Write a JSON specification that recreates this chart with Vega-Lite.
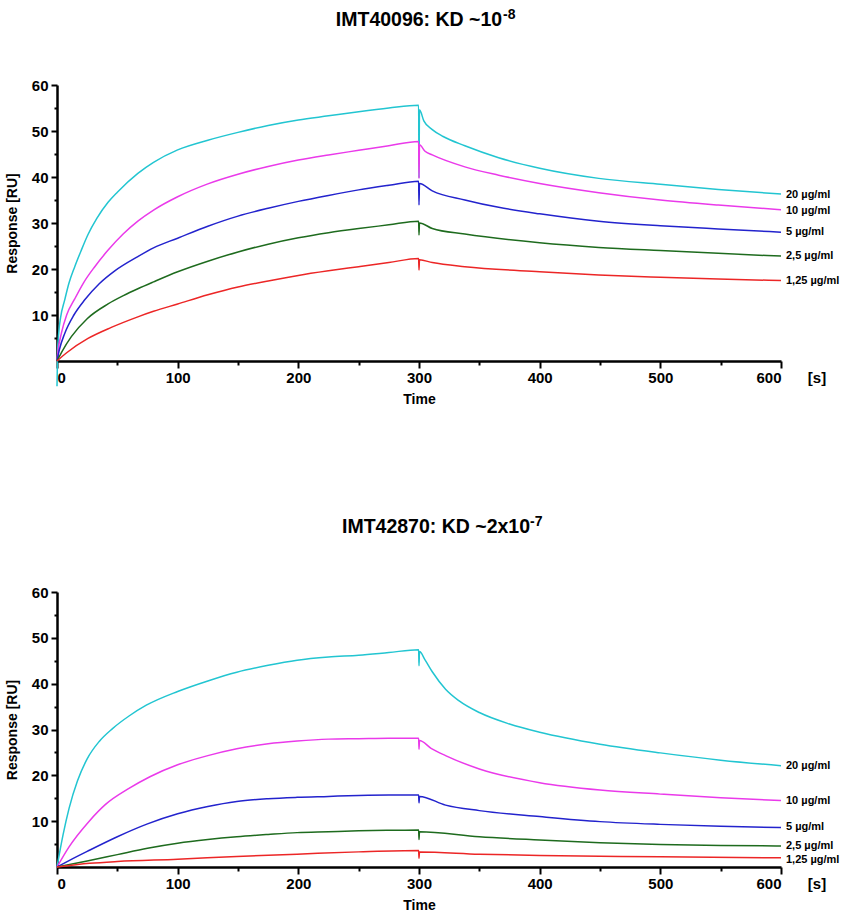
{
  "$schema": "https://vega.github.io/schema/vega-lite/v6.json",
  "padding": {"left": 5, "top": 8, "right": 5, "bottom": 2},
  "config": {
    "font": "Liberation Sans",
    "view": {"stroke": null},
    "concat": {"spacing": 109},
    "axis": {
      "grid": false,
      "domainColor": "#000000",
      "domainWidth": 2.5,
      "tickColor": "#000000",
      "tickWidth": 2,
      "labelFont": "Liberation Sans",
      "labelFontSize": 15,
      "labelFontWeight": "bold",
      "labelColor": "#000000",
      "labelOverlap": false,
      "titleFont": "Liberation Sans",
      "titleFontSize": 14,
      "titleFontWeight": "bold",
      "titleColor": "#000000"
    }
  },
  "datasets": {
    "top": [
      {"c": "20", "t": 0, "v": -5.5}, {"c": "20", "t": 0.5, "v": 2}, {"c": "20", "t": 1.4, "v": 6}, {"c": "20", "t": 3, "v": 9.5},
      {"c": "20", "t": 6.4, "v": 13.3}, {"c": "20", "t": 10, "v": 17}, {"c": "20", "t": 14.7, "v": 20.5}, {"c": "20", "t": 20, "v": 24},
      {"c": "20", "t": 25.7, "v": 27.5}, {"c": "20", "t": 33, "v": 31}, {"c": "20", "t": 42.3, "v": 34.5}, {"c": "20", "t": 50, "v": 36.7},
      {"c": "20", "t": 67, "v": 40.8}, {"c": "20", "t": 80, "v": 43.2}, {"c": "20", "t": 100, "v": 45.9}, {"c": "20", "t": 125, "v": 48},
      {"c": "20", "t": 150, "v": 49.7}, {"c": "20", "t": 175, "v": 51.2}, {"c": "20", "t": 200, "v": 52.4}, {"c": "20", "t": 225, "v": 53.3},
      {"c": "20", "t": 250, "v": 54.2}, {"c": "20", "t": 275, "v": 55}, {"c": "20", "t": 299.7, "v": 55.6}, {"c": "20", "t": 300, "v": 39.8},
      {"c": "20", "t": 300.4, "v": 54.6}, {"c": "20", "t": 304, "v": 52.2}, {"c": "20", "t": 311, "v": 50.3}, {"c": "20", "t": 320, "v": 48.8},
      {"c": "20", "t": 338, "v": 46.8}, {"c": "20", "t": 366, "v": 44.2}, {"c": "20", "t": 400, "v": 41.9}, {"c": "20", "t": 449, "v": 39.7},
      {"c": "20", "t": 500, "v": 38.4}, {"c": "20", "t": 548, "v": 37.3}, {"c": "20", "t": 600, "v": 36.3},

      {"c": "10", "t": 0, "v": 0}, {"c": "10", "t": 1, "v": 2.5}, {"c": "10", "t": 3.6, "v": 6}, {"c": "10", "t": 8, "v": 10},
      {"c": "10", "t": 14.7, "v": 13.5}, {"c": "10", "t": 22, "v": 17}, {"c": "10", "t": 31.3, "v": 20.5}, {"c": "10", "t": 42, "v": 24},
      {"c": "10", "t": 54.8, "v": 27.6}, {"c": "10", "t": 67, "v": 30.4}, {"c": "10", "t": 80, "v": 32.8}, {"c": "10", "t": 100, "v": 35.7},
      {"c": "10", "t": 125, "v": 38.5}, {"c": "10", "t": 150, "v": 40.6}, {"c": "10", "t": 175, "v": 42.3}, {"c": "10", "t": 200, "v": 43.7},
      {"c": "10", "t": 225, "v": 44.8}, {"c": "10", "t": 250, "v": 45.8}, {"c": "10", "t": 275, "v": 46.8}, {"c": "10", "t": 299.7, "v": 47.7},
      {"c": "10", "t": 300, "v": 39.7}, {"c": "10", "t": 300.4, "v": 47}, {"c": "10", "t": 305, "v": 45.6}, {"c": "10", "t": 311, "v": 44.8},
      {"c": "10", "t": 338, "v": 42.2}, {"c": "10", "t": 366, "v": 40.4}, {"c": "10", "t": 400, "v": 38.6}, {"c": "10", "t": 449, "v": 36.6},
      {"c": "10", "t": 500, "v": 35}, {"c": "10", "t": 548, "v": 33.9}, {"c": "10", "t": 600, "v": 32.9},

      {"c": "5", "t": 0, "v": 0}, {"c": "5", "t": 2, "v": 2.5}, {"c": "5", "t": 6.4, "v": 6}, {"c": "5", "t": 14, "v": 10},
      {"c": "5", "t": 23, "v": 13.3}, {"c": "5", "t": 35, "v": 16.8}, {"c": "5", "t": 47.9, "v": 19.6}, {"c": "5", "t": 67, "v": 22.7},
      {"c": "5", "t": 80, "v": 24.6}, {"c": "5", "t": 100, "v": 26.7}, {"c": "5", "t": 125, "v": 29.3}, {"c": "5", "t": 150, "v": 31.5},
      {"c": "5", "t": 175, "v": 33.2}, {"c": "5", "t": 200, "v": 34.7}, {"c": "5", "t": 225, "v": 36}, {"c": "5", "t": 250, "v": 37.2},
      {"c": "5", "t": 275, "v": 38.2}, {"c": "5", "t": 299.7, "v": 39.1}, {"c": "5", "t": 300, "v": 33.9}, {"c": "5", "t": 300.4, "v": 38.6},
      {"c": "5", "t": 311, "v": 37}, {"c": "5", "t": 338, "v": 35}, {"c": "5", "t": 366, "v": 33.4}, {"c": "5", "t": 400, "v": 32},
      {"c": "5", "t": 449, "v": 30.4}, {"c": "5", "t": 500, "v": 29.4}, {"c": "5", "t": 548, "v": 28.7}, {"c": "5", "t": 600, "v": 28},

      {"c": "2.5", "t": 0, "v": 0}, {"c": "2.5", "t": 4, "v": 2}, {"c": "2.5", "t": 11.9, "v": 5.3}, {"c": "2.5", "t": 25, "v": 9.2},
      {"c": "2.5", "t": 42.3, "v": 12.4}, {"c": "2.5", "t": 55, "v": 14.2}, {"c": "2.5", "t": 67, "v": 15.7}, {"c": "2.5", "t": 80, "v": 17.2},
      {"c": "2.5", "t": 100, "v": 19.4}, {"c": "2.5", "t": 125, "v": 21.7}, {"c": "2.5", "t": 150, "v": 23.7}, {"c": "2.5", "t": 175, "v": 25.4},
      {"c": "2.5", "t": 200, "v": 26.8}, {"c": "2.5", "t": 225, "v": 27.9}, {"c": "2.5", "t": 250, "v": 28.8}, {"c": "2.5", "t": 275, "v": 29.6},
      {"c": "2.5", "t": 299.7, "v": 30.4}, {"c": "2.5", "t": 300, "v": 27.4}, {"c": "2.5", "t": 300.4, "v": 30}, {"c": "2.5", "t": 311, "v": 28.8},
      {"c": "2.5", "t": 338, "v": 27.6}, {"c": "2.5", "t": 400, "v": 25.7}, {"c": "2.5", "t": 449, "v": 24.7}, {"c": "2.5", "t": 500, "v": 24},
      {"c": "2.5", "t": 548, "v": 23.4}, {"c": "2.5", "t": 600, "v": 22.8},

      {"c": "1.25", "t": 0, "v": 0}, {"c": "1.25", "t": 8, "v": 1.8}, {"c": "1.25", "t": 25.7, "v": 4.9}, {"c": "1.25", "t": 45, "v": 7.3},
      {"c": "1.25", "t": 67, "v": 9.6}, {"c": "1.25", "t": 80, "v": 10.8}, {"c": "1.25", "t": 100, "v": 12.4}, {"c": "1.25", "t": 125, "v": 14.4},
      {"c": "1.25", "t": 150, "v": 16.1}, {"c": "1.25", "t": 175, "v": 17.4}, {"c": "1.25", "t": 200, "v": 18.6}, {"c": "1.25", "t": 225, "v": 19.6},
      {"c": "1.25", "t": 250, "v": 20.5}, {"c": "1.25", "t": 275, "v": 21.4}, {"c": "1.25", "t": 299.7, "v": 22.3}, {"c": "1.25", "t": 300, "v": 19.8},
      {"c": "1.25", "t": 300.4, "v": 22}, {"c": "1.25", "t": 311, "v": 21.4}, {"c": "1.25", "t": 338, "v": 20.5}, {"c": "1.25", "t": 400, "v": 19.4},
      {"c": "1.25", "t": 449, "v": 18.7}, {"c": "1.25", "t": 500, "v": 18.2}, {"c": "1.25", "t": 548, "v": 17.8}, {"c": "1.25", "t": 600, "v": 17.5}
    ],
    "bottom": [
      {"c": "20", "t": 0, "v": 0}, {"c": "20", "t": 5, "v": 7}, {"c": "20", "t": 10, "v": 12.8}, {"c": "20", "t": 17, "v": 18.8},
      {"c": "20", "t": 25, "v": 23.6}, {"c": "20", "t": 35, "v": 27.4}, {"c": "20", "t": 46, "v": 30.2}, {"c": "20", "t": 60, "v": 33},
      {"c": "20", "t": 74, "v": 35.3}, {"c": "20", "t": 100, "v": 38.3}, {"c": "20", "t": 125, "v": 40.6}, {"c": "20", "t": 149, "v": 42.5},
      {"c": "20", "t": 175, "v": 44}, {"c": "20", "t": 199, "v": 45.1}, {"c": "20", "t": 225, "v": 45.8}, {"c": "20", "t": 250, "v": 46.2},
      {"c": "20", "t": 275, "v": 46.8}, {"c": "20", "t": 299.7, "v": 47.4}, {"c": "20", "t": 300, "v": 43.9}, {"c": "20", "t": 300.4, "v": 47},
      {"c": "20", "t": 305, "v": 45.2}, {"c": "20", "t": 311, "v": 42.6}, {"c": "20", "t": 322, "v": 38.8}, {"c": "20", "t": 333, "v": 36.3},
      {"c": "20", "t": 350, "v": 33.7}, {"c": "20", "t": 375, "v": 31.2}, {"c": "20", "t": 400, "v": 29.4}, {"c": "20", "t": 450, "v": 26.8},
      {"c": "20", "t": 500, "v": 24.9}, {"c": "20", "t": 550, "v": 23.3}, {"c": "20", "t": 600, "v": 22.1},

      {"c": "10", "t": 0, "v": 0}, {"c": "10", "t": 10, "v": 4.4}, {"c": "10", "t": 26.7, "v": 10}, {"c": "10", "t": 40, "v": 13.6},
      {"c": "10", "t": 60, "v": 17.2}, {"c": "10", "t": 77, "v": 19.7}, {"c": "10", "t": 100, "v": 22.3}, {"c": "10", "t": 125, "v": 24.3},
      {"c": "10", "t": 149, "v": 25.8}, {"c": "10", "t": 175, "v": 26.9}, {"c": "10", "t": 199, "v": 27.5}, {"c": "10", "t": 225, "v": 27.9},
      {"c": "10", "t": 250, "v": 28}, {"c": "10", "t": 275, "v": 28.1}, {"c": "10", "t": 299.7, "v": 28.1}, {"c": "10", "t": 300, "v": 25.7},
      {"c": "10", "t": 300.4, "v": 27.6}, {"c": "10", "t": 310, "v": 25.9}, {"c": "10", "t": 322, "v": 24.3}, {"c": "10", "t": 350, "v": 21.4},
      {"c": "10", "t": 400, "v": 18.4}, {"c": "10", "t": 450, "v": 16.8}, {"c": "10", "t": 500, "v": 15.9}, {"c": "10", "t": 550, "v": 15.1},
      {"c": "10", "t": 600, "v": 14.5},

      {"c": "5", "t": 0, "v": 0}, {"c": "5", "t": 10, "v": 1.4}, {"c": "5", "t": 25, "v": 3.4}, {"c": "5", "t": 50, "v": 6.6},
      {"c": "5", "t": 75, "v": 9.4}, {"c": "5", "t": 100, "v": 11.6}, {"c": "5", "t": 125, "v": 13.2}, {"c": "5", "t": 149, "v": 14.3},
      {"c": "5", "t": 175, "v": 14.9}, {"c": "5", "t": 199, "v": 15.2}, {"c": "5", "t": 225, "v": 15.4}, {"c": "5", "t": 250, "v": 15.6},
      {"c": "5", "t": 275, "v": 15.7}, {"c": "5", "t": 299.7, "v": 15.7}, {"c": "5", "t": 300, "v": 14}, {"c": "5", "t": 300.4, "v": 15.4},
      {"c": "5", "t": 322, "v": 13.5}, {"c": "5", "t": 350, "v": 12.3}, {"c": "5", "t": 400, "v": 11}, {"c": "5", "t": 450, "v": 9.9},
      {"c": "5", "t": 500, "v": 9.3}, {"c": "5", "t": 550, "v": 8.9}, {"c": "5", "t": 600, "v": 8.6},

      {"c": "2.5", "t": 0, "v": 0}, {"c": "2.5", "t": 25, "v": 1.3}, {"c": "2.5", "t": 50, "v": 2.7}, {"c": "2.5", "t": 75, "v": 4.1},
      {"c": "2.5", "t": 100, "v": 5.2}, {"c": "2.5", "t": 125, "v": 6}, {"c": "2.5", "t": 149, "v": 6.6}, {"c": "2.5", "t": 175, "v": 7.1},
      {"c": "2.5", "t": 199, "v": 7.5}, {"c": "2.5", "t": 225, "v": 7.7}, {"c": "2.5", "t": 250, "v": 7.9}, {"c": "2.5", "t": 275, "v": 8},
      {"c": "2.5", "t": 299.7, "v": 8.1}, {"c": "2.5", "t": 300, "v": 6}, {"c": "2.5", "t": 300.4, "v": 7.7}, {"c": "2.5", "t": 350, "v": 6.6},
      {"c": "2.5", "t": 400, "v": 5.9}, {"c": "2.5", "t": 450, "v": 5.3}, {"c": "2.5", "t": 500, "v": 4.9}, {"c": "2.5", "t": 550, "v": 4.7},
      {"c": "2.5", "t": 600, "v": 4.6},

      {"c": "1.25", "t": 0, "v": 0}, {"c": "1.25", "t": 27, "v": 0.8}, {"c": "1.25", "t": 50, "v": 1.2}, {"c": "1.25", "t": 100, "v": 1.7},
      {"c": "1.25", "t": 149, "v": 2.3}, {"c": "1.25", "t": 199, "v": 2.8}, {"c": "1.25", "t": 250, "v": 3.3}, {"c": "1.25", "t": 299.7, "v": 3.6},
      {"c": "1.25", "t": 300, "v": 1.9}, {"c": "1.25", "t": 300.4, "v": 3.3}, {"c": "1.25", "t": 350, "v": 2.8}, {"c": "1.25", "t": 400, "v": 2.5},
      {"c": "1.25", "t": 500, "v": 2.25}, {"c": "1.25", "t": 600, "v": 2}
    ],
    "topLabels": [
      {"c": "20", "t": 600, "v": 36.1, "label": "20 µg/ml"},
      {"c": "10", "t": 600, "v": 32.6, "label": "10 µg/ml"},
      {"c": "5", "t": 600, "v": 28.0, "label": "5 µg/ml"},
      {"c": "2.5", "t": 600, "v": 22.8, "label": "2,5 µg/ml"},
      {"c": "1.25", "t": 600, "v": 17.4, "label": "1,25 µg/ml"}
    ],
    "bottomLabels": [
      {"c": "20", "t": 600, "v": 22.1, "label": "20 µg/ml"},
      {"c": "10", "t": 600, "v": 14.4, "label": "10 µg/ml"},
      {"c": "5", "t": 600, "v": 8.7, "label": "5 µg/ml"},
      {"c": "2.5", "t": 600, "v": 4.65, "label": "2,5 µg/ml"},
      {"c": "1.25", "t": 600, "v": 1.6, "label": "1,25 µg/ml"}
    ]
  },
  "vconcat": [
    {
      "width": 724,
      "height": 276,
      "encoding": {
        "x": {
          "field": "t", "type": "quantitative", "title": "Time",
          "scale": {"domain": [0, 600], "nice": false},
          "axis": {
            "values": [0, 50, 100, 150, 200, 250, 300, 350, 400, 450, 500, 550, 600],
            "labelExpr": "datum.value % 100 === 0 ? datum.label : ''",
            "tickSize": {"condition": {"test": "datum.value % 100 === 0", "value": 7}, "value": 4},
            "labelPadding": 2, "titlePadding": 7
          }
        },
        "y": {
          "field": "v", "type": "quantitative", "title": "Response [RU]",
          "scale": {"domain": [0, 60], "nice": false},
          "axis": {
            "values": [5, 10, 15, 20, 25, 30, 35, 40, 45, 50, 55, 60],
            "labelExpr": "datum.value % 10 === 0 ? datum.label : ''",
            "tickSize": {"condition": {"test": "datum.value % 10 === 0", "value": 6}, "value": 3},
            "labelPadding": 3, "titlePadding": 12
          }
        }
      },
      "layer": [
        {
          "data": {"name": "top"},
          "mark": {"type": "line", "strokeWidth": 1.5, "clip": false, "interpolate": "monotone"},
          "encoding": {
            "color": {"field": "c", "type": "nominal", "legend": null,
              "scale": {"domain": ["20", "10", "5", "2.5", "1.25"], "range": ["#22c5d1", "#ea3aea", "#2323cd", "#1e6b1e", "#ec2626"]}}
          }
        },
        {
          "data": {"name": "topLabels"},
          "mark": {"type": "text", "align": "left", "baseline": "middle", "dx": 5, "fontSize": 11, "fontWeight": "bold", "color": "#000000"},
          "encoding": {"text": {"field": "label"}}
        },
        {
          "data": {"values": [{"t": 600, "v": 0}]},
          "mark": {"type": "text", "text": "[s]", "align": "center", "baseline": "middle", "dx": 36, "dy": 17, "fontSize": 15, "fontWeight": "bold", "color": "#000000"}
        },
        {
          "data": {"values": [{"t": 300, "v": 60}]},
          "mark": {"type": "text", "text": "IMT40096: KD ~10", "align": "center", "baseline": "middle", "dx": 0, "dy": -65, "fontSize": 19.5, "fontWeight": "bold", "color": "#000000"}
        },
        {
          "data": {"values": [{"t": 300, "v": 60}]},
          "mark": {"type": "text", "text": "-8", "align": "left", "baseline": "middle", "dx": 84, "dy": -70, "fontSize": 14, "fontWeight": "bold", "color": "#000000"}
        }
      ]
    },
    {
      "width": 724,
      "height": 275,
      "encoding": {
        "x": {
          "field": "t", "type": "quantitative", "title": "Time",
          "scale": {"domain": [0, 600], "nice": false},
          "axis": {
            "values": [0, 50, 100, 150, 200, 250, 300, 350, 400, 450, 500, 550, 600],
            "labelExpr": "datum.value % 100 === 0 ? datum.label : ''",
            "tickSize": {"condition": {"test": "datum.value % 100 === 0", "value": 7}, "value": 4},
            "labelPadding": 2, "titlePadding": 7
          }
        },
        "y": {
          "field": "v", "type": "quantitative", "title": "Response [RU]",
          "scale": {"domain": [0, 60], "nice": false},
          "axis": {
            "values": [5, 10, 15, 20, 25, 30, 35, 40, 45, 50, 55, 60],
            "labelExpr": "datum.value % 10 === 0 ? datum.label : ''",
            "tickSize": {"condition": {"test": "datum.value % 10 === 0", "value": 6}, "value": 3},
            "labelPadding": 3, "titlePadding": 12
          }
        }
      },
      "layer": [
        {
          "data": {"name": "bottom"},
          "mark": {"type": "line", "strokeWidth": 1.5, "clip": false, "interpolate": "monotone"},
          "encoding": {
            "color": {"field": "c", "type": "nominal", "legend": null,
              "scale": {"domain": ["20", "10", "5", "2.5", "1.25"], "range": ["#22c5d1", "#ea3aea", "#2323cd", "#1e6b1e", "#ec2626"]}}
          }
        },
        {
          "data": {"name": "bottomLabels"},
          "mark": {"type": "text", "align": "left", "baseline": "middle", "dx": 5, "fontSize": 11, "fontWeight": "bold", "color": "#000000"},
          "encoding": {"text": {"field": "label"}}
        },
        {
          "data": {"values": [{"t": 600, "v": 0}]},
          "mark": {"type": "text", "text": "[s]", "align": "center", "baseline": "middle", "dx": 36, "dy": 17, "fontSize": 15, "fontWeight": "bold", "color": "#000000"}
        },
        {
          "data": {"values": [{"t": 300, "v": 60}]},
          "mark": {"type": "text", "text": "IMT42870: KD ~2x10", "align": "center", "baseline": "middle", "dx": 17, "dy": -65, "fontSize": 19.5, "fontWeight": "bold", "color": "#000000"}
        },
        {
          "data": {"values": [{"t": 300, "v": 60}]},
          "mark": {"type": "text", "text": "-7", "align": "left", "baseline": "middle", "dx": 111, "dy": -70, "fontSize": 14, "fontWeight": "bold", "color": "#000000"}
        }
      ]
    }
  ]
}
